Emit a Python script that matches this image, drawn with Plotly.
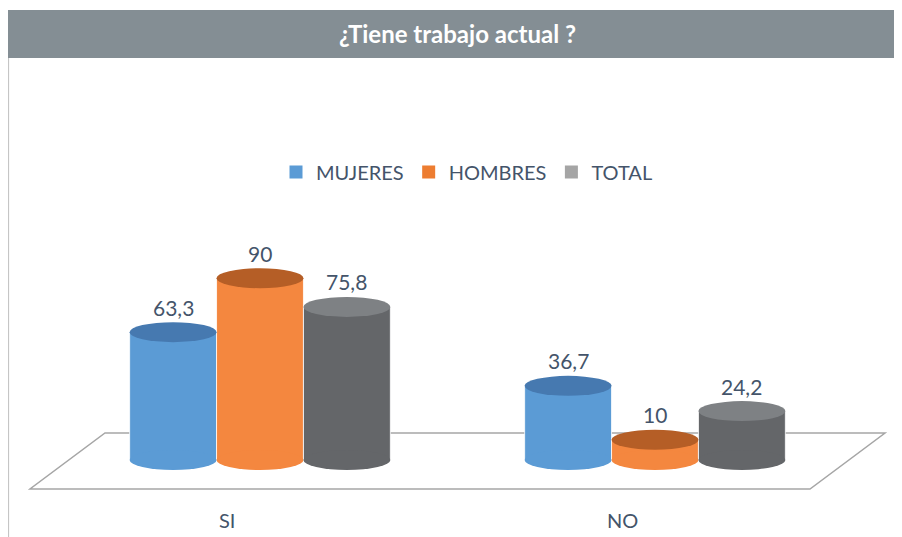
import plotly.graph_objects as go

# ---------------- data ----------------
categories = ["SI", "NO"]
series_names = ["MUJERES", "HOMBRES", "TOTAL"]
mujeres = [63.3, 36.7]
hombres = [90, 10]
total = [75.8, 24.2]
value_labels = {
    "MUJERES": ["63,3", "36,7"],
    "HOMBRES": ["90", "10"],
    "TOTAL": ["75,8", "24,2"],
}
title_text = "¿Tiene trabajo actual ?"

# ---------------- styles ----------------
body_colors = ["#5B9BD5", "#F4873F", "#646669"]
top_colors = ["#4679B0", "#B55E26", "#7E8184"]
legend_colors = ["#5B9BD5", "#ED7D31", "#A5A5A5"]
text_color = "#44546A"
FONT = "Lato"

OFF = 8                      # page body margin of the browser
W, H = 902 - OFF, 537 - OFF  # figure size
TOP = 58 - OFF               # bottom of title bar (figure px)
BAR_W = 0.22                 # bar width in category units
PX_PER_X = 395.0             # pixels per category unit
X_CENTER0 = 260.0 - OFF      # pixel of first category centre
BASE_PX = 460.0 - OFF        # pixel of value 0
PX_PER_Y = 2.02              # pixels per value unit
ELL_H = 10 / PX_PER_Y        # half height of cylinder ellipses (value units)

x_range = [(0 - X_CENTER0) / PX_PER_X, (W - X_CENTER0) / PX_PER_X]
y_range = [(BASE_PX - H) / PX_PER_Y, (BASE_PX - TOP) / PX_PER_Y]

series_vals = [mujeres, hombres, total]
cat_pos = list(range(len(categories)))

fig = go.Figure()
shapes = []
annotations = []

def px_to_x(px):  # screen px -> data x
    return (px - OFF - X_CENTER0) / PX_PER_X
def px_to_y(py):  # screen px -> data y
    return (BASE_PX - (py - OFF)) / PX_PER_Y
def px_to_py(py):  # screen px -> paper y
    return (H - (py - OFF)) / (H - TOP)
def px_to_px(px):  # screen px -> paper x
    return (px - OFF) / W

# floor parallelogram (decor)
floor = [(105, 433), (885, 433), (810, 489), (30, 489)]
path = "M " + " L ".join(f"{px_to_x(a):.4f},{px_to_y(b):.4f}" for a, b in floor) + " Z"
shapes.append(dict(type="path", path=path, xref="x", yref="y",
                   line=dict(color="#A6A6A6", width=1.5), fillcolor="white", layer="below"))

bottoms, tops = [], []
for k, (name, vals) in enumerate(zip(series_names, series_vals)):
    off = (k - 1.5) * BAR_W
    fig.add_trace(go.Bar(
        x=cat_pos, y=vals, width=BAR_W, offset=off, name=name,
        marker=dict(color=body_colors[k], line=dict(color="white", width=0.8)),
        showlegend=False, hoverinfo="skip"))
    for i, v in zip(cat_pos, vals):
        x0 = i + off
        x1 = x0 + BAR_W
        bottoms.append(dict(type="circle", xref="x", yref="y", x0=x0, x1=x1,
                            y0=-ELL_H, y1=ELL_H, fillcolor=body_colors[k],
                            line=dict(width=0), layer="above"))
        tops.append(dict(type="circle", xref="x", yref="y", x0=x0, x1=x1,
                         y0=v - ELL_H, y1=v + ELL_H, fillcolor=top_colors[k],
                         line=dict(width=0), layer="above"))
        annotations.append(dict(x=i + off + BAR_W / 2, y=v, xref="x", yref="y",
                                text=value_labels[name][i], showarrow=False,
                                yshift=25, yanchor="middle",
                                font=dict(family=FONT, size=21, color=text_color)))
    # legend entry
    fig.add_trace(go.Scatter(x=[None], y=[None], mode="markers", name=name,
                             marker=dict(symbol="square", size=13, color=legend_colors[k]),
                             showlegend=True))

shapes += bottoms + tops

# category labels
for i, c in zip(cat_pos, categories):
    annotations.append(dict(x=i, y=px_to_y(520), xref="x", yref="y", text=c,
                            showarrow=False, xshift=-33, yanchor="middle",
                            font=dict(family=FONT, size=20, color=text_color)))

# title bar and frame
shapes.append(dict(type="rect", xref="paper", yref="paper",
                   x0=0, x1=1.0, y0=1.0, y1=px_to_py(10),
                   fillcolor="#848E94", line=dict(width=0), layer="above"))
shapes.append(dict(type="line", xref="paper", yref="paper",
                   x0=0.6 / W, x1=0.6 / W, y0=0, y1=1.0,
                   line=dict(color="#BFBFBF", width=1), layer="above"))
annotations.append(dict(x=px_to_px(457), y=px_to_py(34), xref="paper", yref="paper",
                        text=f"<b>{title_text}</b>", showarrow=False,
                        xanchor="center", yanchor="middle",
                        font=dict(family=FONT, size=24, color="white")))

fig.update_layout(
    width=W, height=H,
    margin=dict(l=0, r=0, t=TOP, b=0, pad=0),
    paper_bgcolor="white", plot_bgcolor="white",
    xaxis=dict(range=x_range, visible=False, fixedrange=True),
    yaxis=dict(range=y_range, visible=False, fixedrange=True),
    shapes=shapes, annotations=annotations,
    legend=dict(orientation="h", x=px_to_px(467), xanchor="center",
                y=px_to_py(172), yanchor="middle",
                font=dict(family=FONT, size=20, color=text_color),
                itemwidth=30, bgcolor="rgba(0,0,0,0)"),
    showlegend=True,
)

fig.write_html("out.html")
